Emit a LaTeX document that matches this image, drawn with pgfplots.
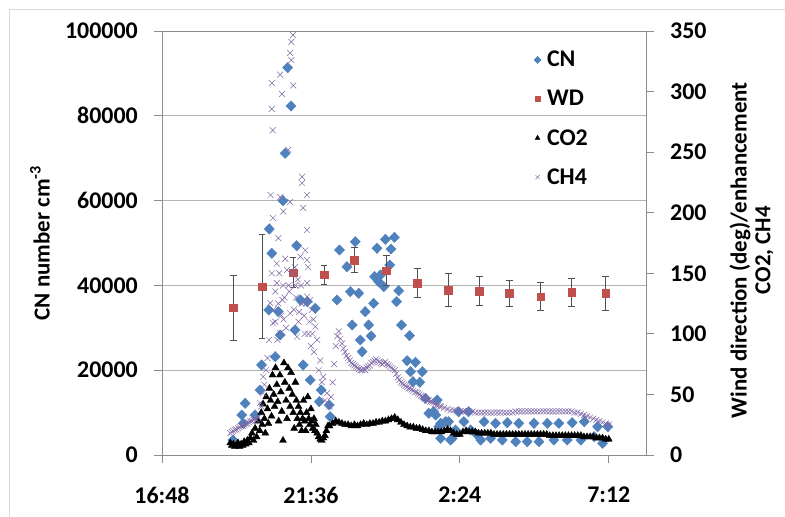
\documentclass[border=0pt]{standalone}
\usepackage{fontspec}
\setmainfont{Carlito}
\usepackage{pgfplots}
\pgfplotsset{compat=1.18}

\definecolor{cnblue}{HTML}{4F81BD}
\definecolor{wdred}{HTML}{C0504D}
\definecolor{chpurple}{HTML}{7F68A6}
\definecolor{axgray}{HTML}{8C8C8C}
\definecolor{gridgray}{HTML}{B4B4B4}
\definecolor{errgray}{HTML}{505050}

\pgfplotsset{
  cnstyle/.style={only marks, mark=diamond*, mark size=5.2bp, color=cnblue,
    mark options={xscale=1.3, fill=cnblue, draw=cnblue}},
  wdstyle/.style={only marks, mark=square*, mark size=3.8bp, color=wdred,
    mark options={fill=wdred, draw=wdred}},
  costyle/.style={only marks, mark=triangle*, mark size=4bp, color=black,
    mark options={fill=black, draw=black}},
  chstyle/.style={only marks, mark=x, mark size=4.2bp, color=chpurple,
    mark options={line width=0.5bp, draw=chpurple}},
  basefont/.style={font=\fontsize{24}{28}\selectfont\bfseries},
}

\begin{document}
\begin{tikzpicture}
\useasboundingbox (0bp,0bp) rectangle (785bp,517bp);
\draw[gray!30, line width=1bp] (9bp,-2bp) -- (9bp,507bp) -- (790bp,507bp);

% left axis: CN
\begin{axis}[
  at={(162bp,62bp)}, anchor=south west,
  width=484bp, height=424bp, scale only axis,
  xmin=16.8, xmax=32.4, ymin=0, ymax=100000,
  xtick={16.8,21.6,26.4,31.2},
  xticklabels={16:48,21:36,2:24,7:12},
  ytick={0,20000,...,100000},
  scaled y ticks=false,
  /pgf/number format/fixed,
  /pgf/number format/precision=0,
  /pgf/number format/1000 sep={},
  /pgf/number format/assume math mode=true,
  xtick pos=bottom, ytick pos=left,
  tick align=outside, major tick length=8bp,
  tick style={axgray, line width=0.8bp},
  axis line style={axgray, line width=0.8bp},
  ymajorgrids, grid style={gridgray, line width=0.8bp},
  tick label style={basefont},
  yticklabel style={anchor=east, inner sep=0pt, xshift=-16bp},
  xticklabel style={anchor=north, inner sep=0pt, yshift=-24bp},
  ylabel={CN number cm\textsuperscript{-3}},
  every axis y label/.style={at={(axis description cs:-0.252,0.5)}, rotate=90, anchor=center,
    font=\fontsize{23}{24}\selectfont\bfseries},
]
\addplot[cnstyle] table {
19.09 3540
19.37 9430
19.42 7470
19.48 12190
19.80 9430
19.96 15330
20.01 21230
20.24 34200
20.26 53300
20.34 47570
20.45 23180
20.55 33800
20.61 28300
20.70 59980
20.77 71150
20.85 91350
20.96 82310
21.09 29480
21.14 49360
21.26 36560
21.35 21230
21.48 36160
21.58 17690
21.74 34600
21.87 12580
21.93 15330
22.19 11790
22.22 9040
22.44 36560
22.52 48350
22.76 44400
22.87 38520
22.93 30660
23.03 50300
23.14 38130
23.19 27120
23.25 24360
23.35 33800
23.46 30660
23.54 28070
23.62 35770
23.65 42060
23.73 48750
23.78 40880
23.84 42450
23.95 39700
24.00 50870
24.14 44810
24.18 48580
24.29 51340
24.36 36160
24.43 38750
24.52 30660
24.70 22240
24.78 28140
24.81 19650
24.89 17290
24.97 21860
25.11 17150
25.19 19650
25.29 13370
25.40 9830
25.55 10210
25.62 9430
25.67 12970
25.72 6670
25.78 7470
25.78 3930
25.94 7860
26.04 7860
26.10 3540
26.15 3930
26.26 5900
26.36 10210
26.53 7860
26.68 10210
26.75 5900
26.96 4720
27.07 3540
27.18 7860
27.39 3930
27.55 7470
27.77 3540
27.93 7620
28.20 3140
28.30 7470
28.57 3140
28.79 7470
28.95 3140
29.22 7470
29.43 3540
29.59 7470
29.86 3540
30.02 7620
30.30 3540
30.41 7860
30.73 4320
30.84 6670
31.00 2760
31.17 6670
};
\end{axis}

% right axis: WD, CO2, CH4
\begin{axis}[
  at={(162bp,62bp)}, anchor=south west,
  width=484bp, height=424bp, scale only axis,
  xmin=16.8, xmax=32.4, ymin=0, ymax=350,
  hide x axis,
  ytick={0,50,...,350},
  ytick pos=right,
  /pgf/number format/fixed,
  /pgf/number format/precision=0,
  /pgf/number format/assume math mode=true,
  tick align=outside, major tick length=8bp,
  tick style={axgray, line width=0.8bp},
  axis line style={axgray, line width=0.8bp},
  tick label style={basefont},
  yticklabel style={anchor=west, inner sep=0pt, xshift=16bp},
  ylabel={Wind direction (deg)/enhancement\\CO2, CH4},
  every axis y label/.style={at={(axis description cs:1.218,0.483)}, rotate=90, anchor=center,
    font=\fontsize{23}{24}\selectfont\bfseries, align=center},
  legend style={draw=none, fill=none, at={(axis description cs:0.762,0.962)}, anchor=north west,
    font=\fontsize{24}{28}\selectfont\bfseries, row sep=18bp, column sep=4bp},
  legend cell align=left,
  legend image post style={every mark/.append style={scale=0.7}},
]
\addlegendimage{cnstyle}
\addlegendentry{CN}

\addplot[wdstyle, error bars/.cd, y dir=both, y explicit,
  error bar style={errgray, line width=0.8bp},
  error mark options={errgray, mark size=3.2bp, line width=0.8bp, rotate=90}]
  table[x index=0, y index=1, y error index=2] {
19.10 121.6 27
20.03 138.9 43
21.03 150.5 12.4
22.03 148.8 7.8
23.00 161.0 10
24.03 152.1 12.4
25.03 141.7 12
26.03 136.0 13.5
27.03 135.4 12
28.00 133.5 10.7
29.00 130.7 11.6
30.00 134.3 11.8
31.10 133.5 13.8
};
\addlegendentry{WD}

\addplot[costyle] table {
19.00 10
19.05 8
19.10 9
19.15 7
19.20 8
19.25 10
19.30 7
19.35 9
19.40 8
19.45 11
19.50 9
19.55 12
19.60 10
19.65 14
19.70 18
19.75 12
19.80 22
19.85 15
19.90 28
19.95 20
20.00 35
20.03 25
20.06 42
20.10 30
20.13 18
20.16 48
20.20 38
20.23 26
20.26 55
20.30 45
20.33 32
20.36 66
20.40 50
20.43 40
20.46 72
20.50 58
20.53 44
20.56 28
20.60 66
20.63 52
20.66 36
20.70 12
20.73 76
20.76 60
20.80 45
20.83 30
20.86 72
20.90 55
20.93 40
20.96 68
21.00 50
21.03 35
21.06 22
21.10 60
21.13 45
21.16 30
21.20 40
21.23 25
21.26 35
21.30 20
21.33 30
21.36 45
21.40 28
21.43 20
21.46 35
21.50 48
21.53 30
21.56 25
21.60 38
21.63 28
21.66 22
21.70 30
21.73 20
21.76 25
21.80 18
21.85 15
21.90 13
21.95 12
22.00 14
22.05 16
22.10 20
22.15 24
22.20 24
22.30 26
22.40 28
22.50 27
22.60 26
22.70 25
22.80 25
22.90 24
23.00 25
23.10 24
23.20 25
23.30 26
23.40 25
23.50 26
23.60 26
23.70 27
23.80 27
23.90 28
24.00 28
24.10 29
24.20 30
24.30 31
24.40 29
24.50 27
24.60 25
24.70 24
24.80 23
24.90 23
25.00 22
25.10 22
25.20 21
25.30 20
25.40 20
25.50 19
25.60 19
25.70 19
25.80 19
25.90 20
26.00 21
26.10 20
26.20 18
26.30 17
26.40 17
26.50 19
26.60 20
26.70 19
26.80 19
26.90 19
27.00 18
27.10 18
27.20 18
27.30 18
27.40 18
27.50 17
27.60 17
27.70 17
27.80 17
27.90 17
28.00 17
28.10 17
28.20 17
28.30 17
28.40 17
28.50 17
28.60 17
28.70 17
28.80 17
28.90 17
29.00 17
29.10 17
29.20 17
29.30 16
29.40 16
29.50 16
29.60 16
29.70 16
29.80 16
29.90 16
30.00 16
30.10 16
30.20 16
30.30 16
30.40 15
30.50 15
30.60 15
30.70 15
30.80 14
30.90 14
31.00 14
31.10 13
31.20 13
};
\addlegendentry{CO2}

\addplot[chstyle] table {
19.00 18
19.05 19
19.10 20
19.15 21
19.20 21
19.25 22
19.30 23
19.35 24
19.40 24
19.45 25
19.50 26
19.55 26
19.60 27
19.65 28
19.70 28
19.75 29
19.80 30
19.85 29
19.90 31
19.96 43
20.00 40
20.06 51
20.06 64.6
20.10 58
20.15 70
20.20 80
20.25 95
20.29 125.5
20.30 214.6
20.34 150
20.34 285.6
20.34 307
20.37 268
20.38 109
20.38 195.6
20.40 120
20.45 135
20.45 110
20.50 142
20.50 158
20.52 95
20.55 179
20.55 125
20.58 150
20.61 100.7
20.61 213
20.61 314
20.65 115
20.67 298
20.68 128
20.70 140
20.71 201
20.72 112
20.75 130
20.77 162
20.80 105
20.83 152.7
20.87 252
20.88 140
20.90 135
20.93 117
20.93 209
20.93 332
20.97 326
20.97 341
21.00 150
21.02 346.7
21.03 305
21.05 120
21.08 155
21.10 140
21.12 130
21.15 97.7
21.18 145
21.20 110
21.22 118
21.26 163.7
21.28 140
21.30 125
21.31 224.5
21.31 229.7
21.35 204
21.38 115
21.40 100
21.42 169
21.44 125
21.47 161
21.47 185.7
21.47 214.6
21.48 130.7
21.48 142
21.51 155
21.52 100
21.55 110
21.58 128
21.60 90
21.63 119.7
21.65 100
21.68 112
21.70 85
21.74 106
21.80 95
21.85 70
21.90 78
21.95 60
22.00 64.6
22.05 45
22.12 51
22.20 40
22.25 48
22.30 60
22.35 75
22.40 90
22.45 98
22.50 102
22.55 96
22.60 92
22.65 88
22.70 85
22.75 82
22.80 80
22.85 78
22.90 76
22.95 75
23.00 74
23.05 73
23.10 72
23.15 71
23.20 70
23.25 70
23.30 71
23.35 70
23.40 72
23.45 73
23.50 74
23.55 76
23.60 77
23.65 78
23.70 79
23.75 78
23.80 77
23.85 76
23.90 75
23.95 76
24.00 77
24.05 75
24.10 74
24.15 73
24.20 72
24.25 71
24.30 70
24.35 67
24.40 64
24.45 62
24.50 60
24.55 59
24.60 58
24.65 57
24.70 56
24.75 55
24.80 55
24.85 54
24.90 53
24.95 52
25.00 52
25.05 51
25.10 50
25.15 49
25.20 48
25.25 47
25.30 46
25.35 45
25.40 45
25.45 44
25.50 44
25.55 43
25.60 42
25.65 41
25.70 41
25.75 40
25.80 40
25.90 39
26.00 38
26.10 37
26.20 37
26.30 36
26.40 36
26.50 36
26.60 36
26.70 36
26.80 36
26.90 35
27.00 35
27.10 35
27.20 35
27.30 35
27.40 35
27.50 35
27.60 35
27.70 35
27.80 35
27.90 35
28.00 35
28.10 35
28.20 36
28.30 36
28.40 36
28.50 36
28.60 36
28.70 36
28.80 36
28.90 36
29.00 36
29.10 36
29.20 36
29.30 36
29.40 36
29.50 36
29.60 36
29.70 36
29.80 36
29.90 36
30.00 36
30.10 35
30.20 35
30.30 34
30.40 33
30.50 32
30.60 31
30.70 30
30.80 29
30.90 28
31.00 27
31.10 26
31.20 25
};
\addlegendentry{CH4}
\end{axis}
\end{tikzpicture}
\end{document}
